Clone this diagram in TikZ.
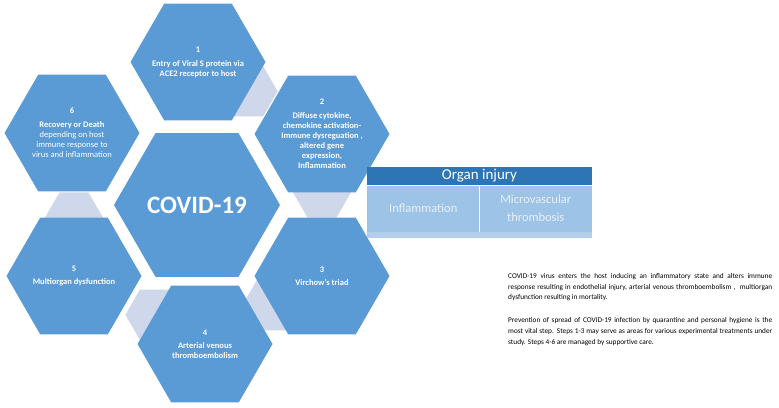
\documentclass[tikz,border=0pt]{standalone}
\usepackage{fontspec}
\setmainfont{Carlito}
\usepackage{tikz}
\usetikzlibrary{shapes.geometric,backgrounds}

\definecolor{hexblue}{HTML}{5B9BD5}
\definecolor{linklight}{RGB}{207,216,235}
\definecolor{headblue}{HTML}{2E75B6}
\definecolor{cellblue}{HTML}{9DC3E6}
\definecolor{striplight}{RGB}{178,206,235}
\definecolor{celltext}{RGB}{232,239,248}

\begin{document}
\begin{tikzpicture}[
		hexbox/.style={regular polygon, regular polygon sides=6, fill=hexblue, minimum size=135pt, inner sep=0pt, outer sep=0pt},
		linkbox/.style={regular polygon, regular polygon sides=6, fill=linklight, minimum size=58pt, inner sep=0pt, outer sep=0pt},
		hextext/.style={text=white, align=center, font=\fontsize{8.5}{10}\selectfont\bfseries},
		cellbox/.style={rectangle, fill=cellblue, minimum width=112.5pt, minimum height=47pt, inner sep=0pt, text=celltext, align=center, font=\fontsize{12.5}{18}\selectfont}
	]
  \useasboundingbox (0pt, 0pt) rectangle (779pt, 407pt);
  % hexagon cycle
  \node (covid) [hexbox, minimum size=166pt] at (197pt, 202pt) {};
  \node (covid_label) [hextext, font=\fontsize{25}{30}\selectfont\bfseries] at (197pt, 202pt) {COVID-19};
  \node (hex_1) [hexbox] at (198pt, 345pt) {};
  \node (hex_1_label) [hextext] at (198pt, 345pt) {1\\[4pt]Entry of Viral S protein via\\ACE2 receptor to host};
  \node (hex_2) [hexbox] at (322pt, 273pt) {};
  \node (hex_2_label) [hextext] at (322pt, 273pt) {2\\[4pt]Diffuse cytokine,\\chemokine  activation-\\Immune dysreguation ,\\altered gene\\expression,\\Inflammation};
  \node (hex_3) [hexbox] at (322pt, 131pt) {};
  \node (hex_3_label) [hextext] at (322pt, 131pt) {3\\[3pt]Virchow’s triad};
  \node (hex_4) [hexbox] at (205pt, 63pt) {};
  \node (hex_4_label) [hextext] at (205pt, 63pt) {4\\[3pt]Arterial venous\\thromboembolism};
  \node (hex_5) [hexbox] at (74pt, 131pt) {};
  \node (hex_5_label) [hextext] at (74pt, 131pt) {5\\[3pt]Multiorgan dysfunction};
  \node (hex_6) [hexbox] at (72pt, 274pt) {};
  \node (hex_6_label) [hextext] at (72pt, 274pt) {6\\[4pt]Recovery or Death\\\mdseries depending on host\\\mdseries immune response to\\\mdseries virus and inflammation};
  % links behind the hexagons
  \begin{pgfonlayer}{background}
    \node (link_12) [linkbox] at (hex_1.-30) {};
    \node (link_23) [linkbox] at (hex_2.south) {};
    \node (link_34) [linkbox] at (hex_3.210) {};
    \node (link_45) [linkbox] at (hex_4.150) {};
    \node (link_56) [linkbox] at (hex_5.north) {};
  \end{pgfonlayer}
  % organ injury table
  \node (organ_head) [rectangle, fill=headblue, minimum width=225pt, minimum height=18pt, inner sep=0pt, text=white, font=\fontsize{15}{18}\selectfont] at (479.5pt, 231pt) {Organ injury};
  \node (inflam) [cellbox] at (423.25pt, 198.5pt) {Inflammation};
  \node (microvasc) [cellbox] at (535.75pt, 198.5pt) {Microvascular\\thrombosis};
  \node (organ_foot) [rectangle, fill=striplight, minimum width=225pt, minimum height=6pt, inner sep=0pt] at (479.5pt, 172pt) {};
  \draw [white, line width=1pt] (inflam.north east) -- (inflam.south east);
  \draw [white, line width=0.5pt] (organ_head.south west) -- (organ_head.south east);
  % note
  \node (note) [anchor=north west, text width=264pt, align=justify, inner sep=0pt, font=\fontsize{7.3}{10.8}\selectfont] at (508pt, 134pt) {COVID-19 virus enters the host inducing an inflammatory state and alters immune\linebreak response resulting in endothelial injury, arterial venous thromboembolism ,~ multiorgan\linebreak dysfunction resulting in mortality.\\[12pt]
  Prevention of spread of COVID-19 infection by quarantine and personal hygiene is the\linebreak most vital step. Steps 1-3 may serve as areas for various experimental treatments under\linebreak study. Steps 4-6 are managed by supportive care.};
\end{tikzpicture}
\end{document}
